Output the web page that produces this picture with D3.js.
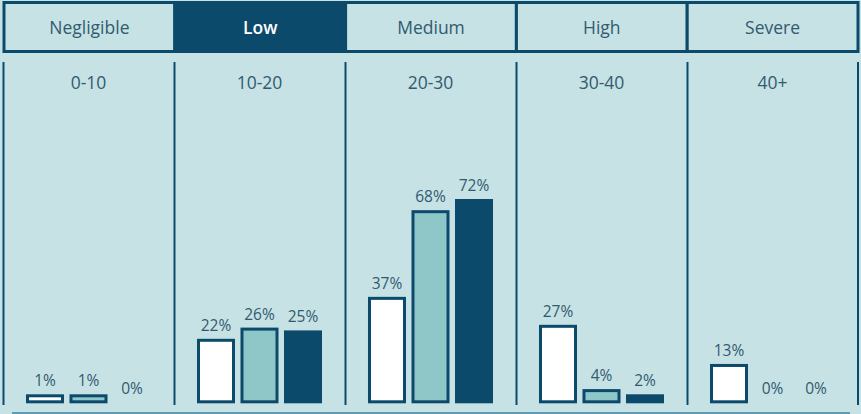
<!DOCTYPE html>
<html><head><meta charset="utf-8">
<script src="https://cdn.jsdelivr.net/npm/d3@7"></script>
<style>html,body{margin:0;padding:0;background:#c6e2e5;}svg{display:block;}</style>
</head><body>
<svg id="c" width="861" height="414"></svg>
<script>
const levels = ["Negligible","Low","Medium","High","Severe"];
const activeLevel = "Low";
const ranges = ["0-10","10-20","20-30","30-40","40+"];
const seriesA = [1,22,37,27,13];
const seriesB = [1,26,68,4,0];
const seriesC = [0,25,72,2,0];
const seriesNames = ["A","B","C"];

const W = 861, H = 414;
const bg = "#c6e2e5", dark = "#0c4a6c", teal = "#8fc6c8", txt = "#325a6f";
const svg = d3.select("#c");
svg.append("rect").attr("width",W).attr("height",H).attr("fill",bg);

const xCol = d3.scaleBand().domain(ranges).range([3,858]).padding(0);
const xHead = d3.scaleBand().domain(levels).range([4,858]).padding(0);
const y = d3.scaleLinear().domain([0,72]).range([401.8,200.5]);
const xIn = d3.scaleBand().domain(seriesNames).paddingInner(0.126).paddingOuter(0.063);

// header
const hg = svg.append("g");
hg.selectAll("rect.cell").data(levels).join("rect")
  .attr("x",d=>xHead(d)).attr("y",2.5).attr("width",xHead.bandwidth()).attr("height",49)
  .attr("fill",d=>d===activeLevel?dark:bg).attr("stroke",dark).attr("stroke-width",3);
hg.selectAll("text").data(levels).join("text")
  .attr("x",d=>xHead(d)+xHead.bandwidth()/2).attr("y",27)
  .attr("text-anchor","middle").attr("dominant-baseline","central")
  .attr("font-family","'Open Sans',sans-serif").attr("font-size",17.5)
  .attr("font-weight",d=>d===activeLevel?600:400)
  .attr("fill",d=>d===activeLevel?"#ffffff":txt).text(d=>d);

// dividers
svg.selectAll("line.div").data(ranges.concat(["end"])).join("line")
  .attr("x1",(d,i)=>i<ranges.length?xCol(d)+0.5:858).attr("x2",(d,i)=>i<ranges.length?xCol(d)+0.5:858)
  .attr("y1",62).attr("y2",405).attr("stroke",dark).attr("stroke-width",2);
svg.append("line").attr("x1",12).attr("x2",850).attr("y1",413).attr("y2",413)
  .attr("stroke","#5f9bb5").attr("stroke-width",2);

// range labels
svg.selectAll("text.rng").data(ranges).join("text")
  .attr("x",d=>xCol(d)+xCol.bandwidth()/2).attr("y",82)
  .attr("text-anchor","middle").attr("dominant-baseline","central")
  .attr("font-family","'Open Sans',sans-serif").attr("font-size",17.5)
  .attr("fill",txt).text(d=>d);

// bars
const data = ranges.map((r,i)=>({r, vals:[
  {s:"A",v:seriesA[i],fill:"#ffffff"},
  {s:"B",v:seriesB[i],fill:teal},
  {s:"C",v:seriesC[i],fill:dark}]}));
svg.selectAll("g.grp").data(data).join("g")
  .each(function(d){
    const c = xCol(d.r)+xCol.bandwidth()/2;
    xIn.range([c-65.25,c+65.25]);
    const gg = d3.select(this);
    d.vals.forEach(e=>{
      const x0 = xIn(e.s), bw = xIn.bandwidth();
      let top = y(e.v);
      if(e.v>0){
        if(y(0)-top<6) top = y(0)-6;
        gg.append("rect").attr("x",x0+1.5).attr("y",top)
          .attr("width",bw-3).attr("height",y(0)-top)
          .attr("fill",e.fill).attr("stroke",dark).attr("stroke-width",3);
      }
      gg.append("text").attr("x",x0+bw/2).attr("y",(e.v>0?top-1.5:y(0))-8)
        .attr("text-anchor","middle")
        .attr("font-family","'Open Sans',sans-serif").attr("font-size",15.5)
        .attr("fill",txt).text(e.v+"%");
    });
  });
</script>
</body></html>
